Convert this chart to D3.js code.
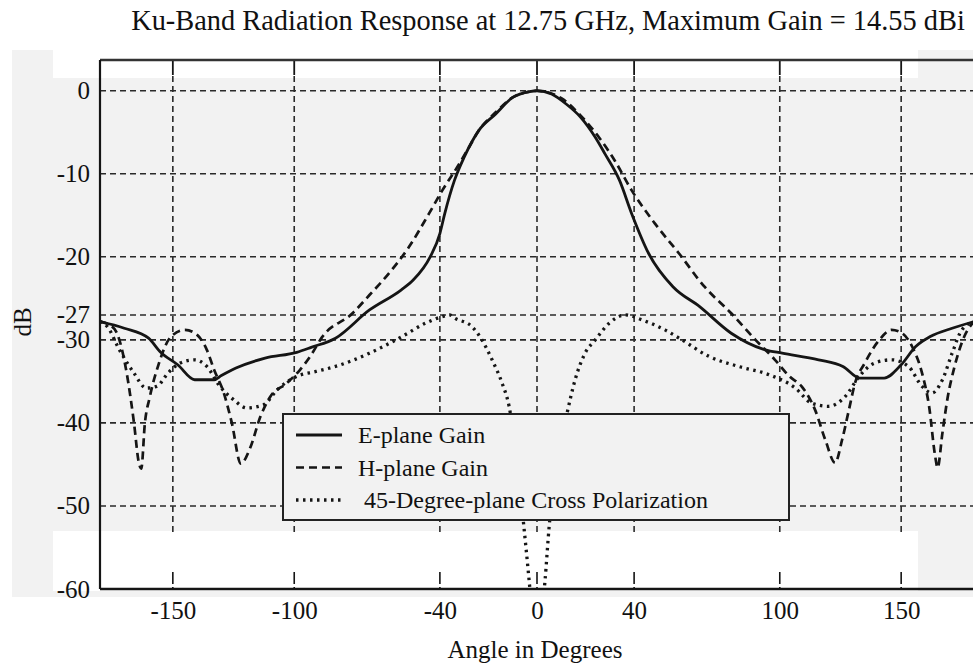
<!DOCTYPE html>
<html>
<head>
<meta charset="utf-8">
<script src="https://cdn.jsdelivr.net/npm/d3@7"></script>
<style>
  html, body { margin: 0; padding: 0; background: #fff; }
  svg { display: block; }
  text { font-family: "Liberation Serif", "Times New Roman", serif; fill: #111; }
</style>
</head>
<body>
<svg id="chart" width="973" height="665"></svg>
<script>
// values
var xTicks = [-150, -100, -40, 0, 40, 100, 150];
var yTicks = [0, -10, -20, -27, -30, -40, -50, -60];

var eAngle = [-180,-170,-160,-155,-148,-141,-133,-130,-124,-112,-99,-93,-83,-69,-56,-51,-44,-40,-38,-34,-30,-24,-17,-10,-3,0,
  6,12,18,24,28,34,39,46,56,67,80,94,101,116,126,133,143,150,156,162,171,180];
var eGain = [-27.8,-28.6,-29.8,-31.5,-33,-34.8,-34.8,-34.3,-33.4,-32.2,-31.5,-30.9,-29.8,-26.4,-24,-22.8,-20,-17.2,-14.8,-10.8,-8,-4.8,-2.8,-0.8,-0.1,0,
  -0.4,-1.6,-3.2,-5.6,-7.6,-10.8,-14.8,-19.6,-23.6,-26,-29.2,-31.2,-31.6,-32.4,-33.2,-34.6,-34.6,-33,-30.8,-29.6,-28.6,-27.8];

var hAngle = [-180,-176,-173,-169,-166,-164,-163,-161.5,-159.5,-155.7,-151,-145,-140,-136,-133,-129,-125.7,-122,-118,-114,-110,-103,-97.6,-93,-88.6,-76,-69,-61,-52.7,-44.5,-39,-32,-28,-24,-17,-10,-3,0,
  3,10,18,25.5,32,39,48.6,58.5,69,80,90,98,104,109,114.5,118.7,122.8,125.7,128.5,131,135,141,146,150.4,154.5,158.6,161.5,164,165,167,169,172,176,180];
var hGain = [-27.8,-28.2,-29.2,-34,-40,-44.8,-45.5,-40,-36.9,-32.8,-29.7,-28.8,-29.4,-31.2,-33.6,-36.4,-40,-44.9,-42.9,-39.3,-36.9,-35.2,-33.6,-31.8,-29.7,-26.8,-24.6,-22,-18.8,-14.8,-12,-8.8,-6.8,-4.8,-2.6,-0.8,-0.1,0,
  -0.1,-0.9,-3,-5.6,-8.4,-12,-16,-19.6,-23.6,-26.8,-30,-32.4,-34.4,-35.6,-38.4,-42,-44.8,-42,-38.4,-35.2,-32.8,-30,-28.8,-29.2,-30.8,-34,-38,-44,-45.4,-41.2,-37.2,-33.2,-29.6,-27.8];

var xpAngle = [-180,-177,-172,-166,-161,-156.6,-152,-147,-141,-136,-130.6,-125,-119.5,-112.5,-107,-99,-91,-83,-69,-55.6,-46,-39,-36,-33.8,-26.8,-22.7,-18.5,-14.4,-11.5,-8.5,-5.4,-3.3,-2,0,
  2,3.3,5,8,12.4,15.7,19.8,24,29.7,36.3,43.3,52.7,59.7,70.9,83,95.6,106.4,113,120,127,132.7,139,146,153,158.6,162.7,167,171,175,180];
var xpGain = [-27.8,-28.4,-31.2,-34,-35.8,-35.6,-34,-32.8,-32.4,-33.2,-35.6,-37.2,-38.2,-37.8,-36,-34.4,-33.8,-33.2,-31.6,-29.6,-28,-27.2,-27,-27.4,-28.4,-30,-32.4,-35.2,-38,-44,-52.5,-58.8,-63,-70,
  -63,-59,-52.5,-45,-38.8,-34.8,-31.6,-30,-28,-27,-27.6,-28.8,-30,-32,-33.2,-34.2,-35.8,-37.6,-38,-36.8,-34.4,-32.8,-32.4,-33.2,-35.6,-36.4,-34.8,-31.6,-28.8,-27.8];

var seriesNames = ['E-plane Gain', 'H-plane Gain', ' 45-Degree-plane Cross Polarization'];
var titleText = 'Ku-Band Radiation Response at 12.75 GHz, Maximum Gain = 14.55 dBi';

var
  svg = d3.select('#chart'),
  plotL = 100, plotR = 974, plotT = 60, plotB = 589,
  xScale = d3.scaleLinear().domain([-180, 180]).range([plotL, plotR]),
  yScale = d3.scaleLinear().domain([-60, 3.7]).range([plotB, plotT]),
  paper = '#f2f2f2',
  ink = '#151515'
  ;

function zip(a, b){
  return a.map(function(d, i){ return {x: d, y: b[i]}; });
}

var series = [
  {name: seriesNames[0], values: zip(eAngle, eGain), dash: null, width: 2.8},
  {name: seriesNames[1], values: zip(hAngle, hGain), dash: '8,5', width: 2.7},
  {name: seriesNames[2], values: zip(xpAngle, xpGain), dash: '2.5,4.5', width: 3.3}
];

// scanned paper tone with the white strips of the original
svg.append('rect').attr('x', 12).attr('y', 50).attr('width', 961).attr('height', 547).attr('fill', paper);
svg.append('rect').attr('x', 53).attr('y', 50).attr('width', 865).attr('height', 28).attr('fill', '#fff');
svg.append('rect').attr('x', 53).attr('y', 531).attr('width', 865).attr('height', 60).attr('fill', '#fff');

svg.append('clipPath').attr('id', 'plot-clip')
  .append('rect').attr('x', plotL).attr('y', plotT).attr('width', plotR - plotL).attr('height', plotB - plotT);

// grid
var grid = svg.append('g').attr('class', 'grid')
  .attr('stroke', '#2a2a2a').attr('stroke-width', 1.6).attr('stroke-dasharray', '6,4');

grid.selectAll('line.h')
  .data(yTicks.filter(function(d){ return d > -60; }))
  .enter().append('line').attr('class', 'h')
  .attr('x1', plotL).attr('x2', plotR)
  .attr('y1', function(d){ return yScale(d); })
  .attr('y2', function(d){ return yScale(d); });

grid.selectAll('line.v')
  .data(xTicks)
  .enter().append('line').attr('class', 'v')
  .attr('x1', function(d){ return xScale(d); })
  .attr('x2', function(d){ return xScale(d); })
  .attr('y1', plotT + 16).attr('y2', 532);

// axes
var xAxisBottom = d3.axisBottom(xScale).tickValues(xTicks).tickSize(0).tickPadding(12)
  .tickFormat(function(d){ return d; });
var yAxis = d3.axisLeft(yScale).tickValues(yTicks).tickSize(0).tickPadding(10)
  .tickFormat(function(d){ return d; });

var gx = svg.append('g').attr('transform', 'translate(0,' + plotB + ')').call(xAxisBottom);
gx.select('.domain').remove();
gx.selectAll('text').attr('font-size', 25).attr('font-family', '"Liberation Serif", serif').attr('fill', ink);

var gy = svg.append('g').attr('transform', 'translate(' + plotL + ',0)').call(yAxis);
gy.select('.domain').remove();
gy.selectAll('text').attr('font-size', 25).attr('font-family', '"Liberation Serif", serif').attr('fill', ink);

// solid tick marks top and bottom
svg.append('g').selectAll('line')
  .data(xTicks).enter().append('line')
  .attr('x1', function(d){ return xScale(d); }).attr('x2', function(d){ return xScale(d); })
  .attr('y1', plotT).attr('y2', plotT + 15)
  .attr('stroke', ink).attr('stroke-width', 1.8);
svg.append('g').selectAll('line')
  .data(xTicks).enter().append('line')
  .attr('x1', function(d){ return xScale(d); }).attr('x2', function(d){ return xScale(d); })
  .attr('y1', plotB).attr('y2', plotB - 17)
  .attr('stroke', ink).attr('stroke-width', 1.6).attr('stroke-dasharray', '2,3,12');

// frame
svg.append('line').attr('x1', plotL).attr('x2', plotR).attr('y1', plotT).attr('y2', plotT)
  .attr('stroke', '#333').attr('stroke-width', 2.4);
svg.append('line').attr('x1', plotL).attr('x2', plotR).attr('y1', plotB).attr('y2', plotB)
  .attr('stroke', ink).attr('stroke-width', 2.4);
svg.append('line').attr('x1', plotL).attr('x2', plotL).attr('y1', plotT).attr('y2', plotB)
  .attr('stroke', ink).attr('stroke-width', 2.2);

// curves
var line = d3.line()
  .curve(d3.curveMonotoneX)
  .x(function(d){ return xScale(d.x); })
  .y(function(d){ return yScale(d.y); });

svg.append('g').attr('clip-path', 'url(#plot-clip)')
  .selectAll('path')
  .data(series).enter().append('path')
  .attr('d', function(d){ return line(d.values); })
  .attr('fill', 'none')
  .attr('stroke', ink)
  .attr('stroke-width', function(d){ return d.width; })
  .attr('stroke-dasharray', function(d){ return d.dash; })
  .attr('stroke-linejoin', 'round');

// legend
var legend = svg.append('g').attr('transform', 'translate(283,414)');
legend.append('rect').attr('width', 506).attr('height', 106)
  .attr('fill', paper).attr('stroke', '#222').attr('stroke-width', 2);

var item = legend.selectAll('g.item')
  .data(series).enter().append('g').attr('class', 'item')
  .attr('transform', function(d, i){ return 'translate(0,' + (21 + i * 32.5) + ')'; });

item.append('line')
  .attr('x1', 13).attr('x2', 59).attr('y1', 0).attr('y2', 0)
  .attr('stroke', ink)
  .attr('stroke-width', function(d){ return d.width; })
  .attr('stroke-dasharray', function(d){ return d.dash; });

item.append('text')
  .attr('x', 75).attr('y', 8)
  .attr('font-size', 24)
  .attr('xml:space', 'preserve')
  .style('white-space', 'pre')
  .text(function(d){ return d.name; });

// titles
svg.append('text')
  .attr('x', 548).attr('y', 30)
  .attr('text-anchor', 'middle')
  .attr('font-size', 28.4)
  .text(titleText);

svg.append('text')
  .attr('x', 535).attr('y', 658)
  .attr('text-anchor', 'middle')
  .attr('font-size', 25)
  .text('Angle in Degrees');

svg.append('text')
  .attr('transform', 'translate(31,322) rotate(-90)')
  .attr('text-anchor', 'middle')
  .attr('font-size', 25)
  .text('dB');
</script>
</body>
</html>
